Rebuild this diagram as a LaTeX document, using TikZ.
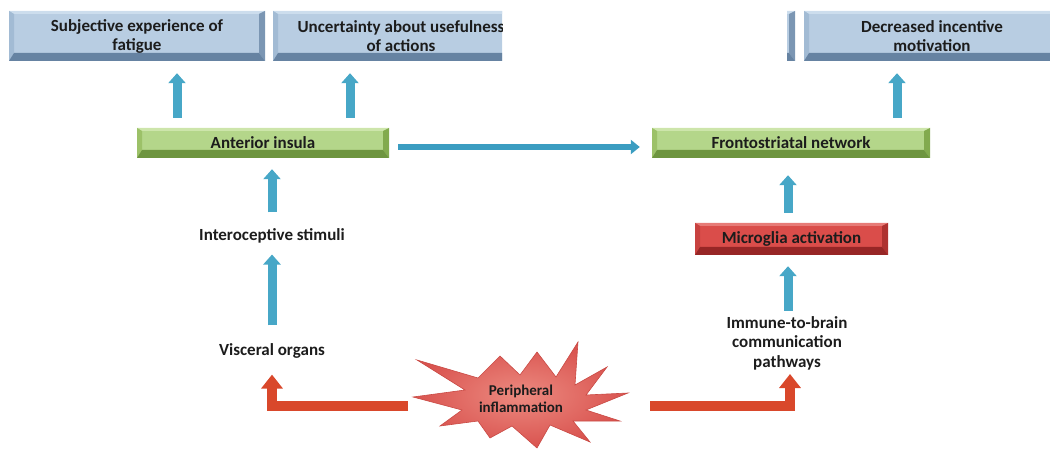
\documentclass[tikz,border=0pt]{standalone}
\usepackage{fontspec}
\setmainfont{Carlito}
\usetikzlibrary{arrows.meta,calc}
\definecolor{txt}{HTML}{1C1C1C}
\definecolor{bface}{HTML}{B8CDE2}\definecolor{btop}{HTML}{CCDDED}\definecolor{bleft}{HTML}{A2BBD4}\definecolor{bright}{HTML}{7B96B3}\definecolor{bbot}{HTML}{6683A2}
\definecolor{gface}{HTML}{B4D68A}\definecolor{gtop}{HTML}{CDE5AB}\definecolor{gleft}{HTML}{9CC168}\definecolor{gright}{HTML}{82AA4E}\definecolor{gbot}{HTML}{6E9540}
\definecolor{rface}{HTML}{DA4D4A}\definecolor{rtop}{HTML}{E77B77}\definecolor{rleft}{HTML}{C84240}\definecolor{rright}{HTML}{AE3230}\definecolor{rbot}{HTML}{972626}
\definecolor{arrc}{HTML}{47A7C7}\definecolor{harrc}{HTML}{3B9DC1}\definecolor{redarr}{HTML}{D9482B}
\definecolor{starin}{HTML}{EC8A80}\definecolor{starout}{HTML}{D9534F}\definecolor{starline}{HTML}{C94A44}
\newcommand\lbl{\fontsize{17}{19}\selectfont\bfseries}
\newcommand\starlbl{\fontsize{15}{17}\selectfont\bfseries}
\tikzset{
  bev/.style n args={5}{
    rectangle, inner sep=0pt, align=center, font=\lbl, text=txt, fill=#1,
    path picture={
      \coordinate (bsw) at (path picture bounding box.south west);
      \coordinate (bne) at (path picture bounding box.north east);
      \coordinate (bse) at (path picture bounding box.south east);
      \coordinate (bnw) at (path picture bounding box.north west);
      \fill[#2] (bnw) -- (bne) -- ([shift={(-6pt,-3pt)}]bne) -- ([shift={(5pt,-3pt)}]bnw) -- cycle;
      \fill[#3] (bnw) -- ([shift={(5pt,-3pt)}]bnw) -- ([shift={(5pt,8pt)}]bsw) -- (bsw) -- cycle;
      \fill[#4] (bne) -- ([shift={(-6pt,-3pt)}]bne) -- ([shift={(-6pt,8pt)}]bse) -- (bse) -- cycle;
      \fill[#5] (bsw) -- ([shift={(5pt,8pt)}]bsw) -- ([shift={(-6pt,8pt)}]bse) -- (bse) -- cycle;
    }},
  bluebox/.style={bev={bface}{btop}{bleft}{bright}{bbot}, minimum width=256pt, minimum height=50pt},
  greenbox/.style={bev={gface}{gtop}{gleft}{gright}{gbot}, minimum height=30pt},
  redbox/.style={bev={rface}{rtop}{rleft}{rright}{rbot}, minimum height=32pt},
  plain/.style={inner sep=0pt, align=center, font=\lbl, text=txt},
  bluearrow/.style={draw=arrc, line width=9pt, -{Triangle[width=17pt,length=10pt]}},
  harrow/.style={draw=harrc, line width=6pt, -{Triangle[width=14pt,length=9pt]}},
  redarrow/.style={draw=redarr, line width=10pt, -{Triangle[width=21pt,length=14pt]}}
}
\begin{document}
\begin{tikzpicture}[x=1pt,y=-1pt]
\useasboundingbox (0,0) rectangle (1050,449);
% top row
\node[bluebox] (sub) at (137,36) {Subjective experience of\\fatigue};
\begin{scope}
\clip (268,0) rectangle (502,80);
\node[bluebox] (unc) at (401,36) {Uncertainty about usefulness\\of actions};
\end{scope}
\begin{scope}
\clip (787,0) rectangle (796,80);
\node[bluebox] (prev) at (667,36) {};
\end{scope}
\begin{scope}
\clip (800,0) rectangle (1050,80);
\node[bluebox] (dec) at (932,36) {Decreased incentive\\motivation};
\end{scope}
% middle row
\node[greenbox, minimum width=252pt] (ai) at (263,143) {Anterior insula};
\node[greenbox, minimum width=278pt] (fs) at (791,143) {Frontostriatal network};
\node[redbox, minimum width=193pt] (mg) at (791.5,239) {Microglia activation};
\node[plain] (ist) at (272,236) {Interoceptive stimuli};
\node[plain] (vo) at (272,351) {Visceral organs};
\node[plain, font=\fontsize{17}{19.5}\selectfont\bfseries] (imm) at (787,343) {Immune-to-brain\\communication\\pathways};
% star
\shade[inner color=starin, outer color=starout, draw=starline, line width=0.6pt]
 (417,360) -- (478,378) -- (500,356) -- (520,375) -- (537,352) -- (556,377) -- (578,342) -- (575,385)
 -- (607,367) -- (586,395) -- (628,393) -- (586,410) -- (620,421) -- (573,421) -- (590,442) -- (550,425)
 -- (537,448) -- (512,426) -- (490,438) -- (478,421) -- (440,426) -- (462,410) -- (413,397) -- (465,390) -- cycle;
\node[inner sep=0pt, align=center, font=\starlbl, text=txt] (pi) at (521,399) {Peripheral\\inflammation};
\coordinate (pl) at ($(pi)+(-113,7)$);
\coordinate (pr) at ($(pi)+(129,7)$);
% blue arrows
\draw[bluearrow] ($(ai.north)+(-86,-10)$) -- ($(sub.south)+(40,12)$);
\draw[bluearrow] ($(ai.north)+(87,-10)$) -- ($(unc.south)+(-51,12)$);
\draw[bluearrow] ($(fs.north)+(106,-10)$) -- ($(dec.south)+(-35,12)$);
\draw[bluearrow] ($(ist.north)+(0,-16)$) -- ($(ai.south)+(9,11)$);
\draw[bluearrow] ($(vo.north)+(0,-18)$) -- ($(ist.south)+(0,11)$);
\draw[bluearrow] ($(mg.north)+(-3.5,-10)$) -- ($(fs.south)+(-3,17)$);
\draw[bluearrow] ($(imm.north)+(1,-5)$) -- ($(mg.south)+(-3.5,11)$);
\draw[harrow] ($(ai.east)+(9,4)$) -- ($(fs.west)+(-12,4)$);
% red arrows
\draw[redarrow] (pl) -| ($(vo.south)+(0,16)$);
\draw[redarrow] (pr) -| ($(imm.south)+(3,4)$);
\end{tikzpicture}
\end{document}
